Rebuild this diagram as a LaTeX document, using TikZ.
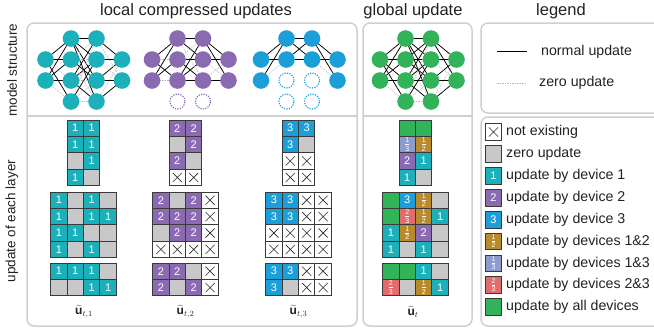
\documentclass[tikz,border=0pt]{standalone}
\usepackage{fontspec}
\setmainfont{Liberation Sans}
\usetikzlibrary{shapes.misc}
\definecolor{c1}{HTML}{1BB0BA}
\definecolor{c2}{HTML}{8A6BB2}
\definecolor{c3}{HTML}{1C9FD9}
\definecolor{ca}{HTML}{32B35A}
\definecolor{c12}{HTML}{B88A2C}
\definecolor{c13}{HTML}{8D9BCD}
\definecolor{c23}{HTML}{E26B6E}
\definecolor{cz}{HTML}{C8C8C8}
\definecolor{cx}{HTML}{FFFFFF}
\definecolor{panelgray}{HTML}{CFCFCF}
\definecolor{cellline}{HTML}{3A3A3A}
\definecolor{txt}{HTML}{222222}
\pgfdeclarelayer{bg}
\pgfsetlayers{bg,main}
\newcommand\stackfrac[2]{$\frac{\mbox{\fontsize{7}{7}\selectfont #1}}{\mbox{\fontsize{7}{7}\selectfont #2}}$}
\expandafter\def\csname t1\endcsname{1}
\expandafter\def\csname t2\endcsname{2}
\expandafter\def\csname t3\endcsname{3}
\expandafter\def\csname tz\endcsname{}
\expandafter\def\csname tx\endcsname{}
\expandafter\def\csname ta\endcsname{}
\expandafter\def\csname t12\endcsname{\stackfrac{1}{2}}
\expandafter\def\csname t13\endcsname{\stackfrac{1}{3}}
\expandafter\def\csname t23\endcsname{\stackfrac{2}{3}}
\def\xmarkname{x}
\tikzset{
  panel/.style={draw=panelgray, line width=1.5pt, rounded corners=7pt},
  panelline/.style={draw=panelgray, line width=1.5pt},
  title/.style={font=\fontsize{16.5}{18}\selectfont, text=txt},
  sidelabel/.style={font=\fontsize{13.5}{15}\selectfont, text=txt, rotate=90},
  legtext/.style={font=\fontsize{14.2}{16}\selectfont, text=txt, anchor=west, inner sep=0pt},
  neuron/.style={circle, minimum size=16.6pt, inner sep=0pt, draw=none},
  ghost/.style={circle, minimum size=15pt, inner sep=0pt, line width=1.2pt, dash pattern=on 1.2pt off 1.3pt},
  normalupd/.style={draw=black, line width=0.75pt},
  zeroupd/.style={draw=black!28, line width=0.5pt, dash pattern=on 1.5pt off 1pt},
  cellbox/.style={draw=cellline, line width=1pt, minimum size=16.4pt, inner sep=0pt, text=white, font=\fontsize{11}{11}\selectfont},
  crossmark/.style={cross out, draw=black!85, line width=0.6pt, minimum size=8.5pt, inner sep=0pt},
  sublabel/.style={font=\fontsize{12}{14}\selectfont, text=txt, inner sep=1pt}
}
% #1 name prefix, #2 left x, #3 top y, #4 number of columns, #5 entries
\newcommand\cellgrid[5]{%
  \foreach \e [count=\k from 0] in {#5} {%
    \pgfmathtruncatemacro\rr{floor(\k/#4)}%
    \pgfmathtruncatemacro\cc{\k-\rr*#4}%
    \node[cellbox, fill=c\e] (#1-\k) at ({#2+(\cc+0.5)*16.4},{#3+(\rr+0.5)*16.4}) {\csname t\e\endcsname};
    \ifx\e\xmarkname \node[crossmark] (#1-x\k) at (#1-\k.center) {};\fi
  }}
% #1 prefix, #2 left x, #3 colour, #4 number of existing hidden nodes
\newcommand\neuralnet[4]{%
  \node[neuron, fill=#3] (#1a1) at (#2,59.5) {};
  \node[neuron, fill=#3] (#1a2) at (#2,80.5) {};
  \node[neuron, fill=#3] (#1d1) at (#2+76.5,59.5) {};
  \node[neuron, fill=#3] (#1d2) at (#2+76.5,80.5) {};
  \foreach \i/\y in {1/38.5,2/59.5,3/80.5,4/101.5}{%
    \ifnum\i>#4
      \node[ghost, draw=#3] (#1b\i) at (#2+25.5,\y) {};
      \node[ghost, draw=#3] (#1c\i) at (#2+51,\y) {};
    \else
      \node[neuron, fill=#3] (#1b\i) at (#2+25.5,\y) {};
      \node[neuron, fill=#3] (#1c\i) at (#2+51,\y) {};
    \fi}}
\begin{document}
\begin{tikzpicture}[x=1pt,y=-1pt]
\useasboundingbox (0,0) rectangle (654,333);
% panels
\draw[panel] (27,23) rectangle (357,326);
\draw[panelline] (27,116) -- (357,116);
\draw[panel] (363,23) rectangle (472,326);
\draw[panelline] (363,116) -- (472,116);
\draw[panel] (481,23) rectangle (665,113);
\draw[panel] (481,117) rectangle (665,326);
% titles
\node[title] (t1) at (196,11) {local compressed updates};
\node[title] (t2) at (413,11) {global update};
\node[title] (t3) at (561,11) {legend};
\node[sidelabel] (s1) at (12,70) {model structure};
\node[sidelabel] (s2) at (12,221) {update of each layer};
% networks
\neuralnet{p}{45.5}{c1}{4}
\neuralnet{q}{152}{c2}{3}
\neuralnet{r}{261}{c3}{2}
\neuralnet{g}{380}{ca}{4}
\begin{pgfonlayer}{bg}
% device 1
\foreach \s/\t in {a1/b1,a2/b1,a1/b2,a2/b2,a2/b3,a1/b4,
  b1/c1,b3/c1,b1/c2,b3/c2,b4/c2,b1/c3,b2/c3,b1/c4,b3/c4,
  c1/d1,c2/d1,c3/d1,c3/d2,c4/d2}
  \draw[normalupd] (p\s.center) -- (p\t.center);
\foreach \s/\t in {a1/b3,a2/b4,b2/c1,b4/c1,b2/c2,b3/c3,b4/c3,b2/c4,b4/c4,c4/d1,c1/d2,c2/d2}
  \draw[zeroupd] (p\s.center) -- (p\t.center);
% device 2
\foreach \s/\t in {a1/b1,a2/b1,a2/b2,a1/b3,
  b1/c1,b3/c1,b1/c2,b2/c2,b3/c2,b2/c3,b3/c3,
  c1/d1,c2/d1,c1/d2,c3/d2}
  \draw[normalupd] (q\s.center) -- (q\t.center);
\foreach \s/\t in {a1/b2,a2/b3,b2/c1,b1/c3,c3/d1,c2/d2}
  \draw[zeroupd] (q\s.center) -- (q\t.center);
% device 3
\foreach \s/\t in {a1/b1,a2/b1,a1/b2,b1/c1,b2/c1,b1/c2,b2/c2,c1/d1,c2/d1,c1/d2}
  \draw[normalupd] (r\s.center) -- (r\t.center);
\foreach \s/\t in {a2/b2,c2/d2}
  \draw[zeroupd] (r\s.center) -- (r\t.center);
% global
\foreach \s/\t in {a1/b1,a2/b1,a1/b2,a2/b2,a1/b3,a2/b3,a1/b4,
  b1/c1,b2/c1,b3/c1,b1/c2,b2/c2,b3/c2,b4/c2,b1/c3,b2/c3,b3/c3,b1/c4,b3/c4,
  c1/d1,c2/d1,c3/d1,c1/d2,c3/d2,c4/d2}
  \draw[normalupd] (g\s.center) -- (g\t.center);
\foreach \s/\t in {a2/b4,b4/c1,b4/c3,b2/c4,b4/c4,c4/d1,c2/d2}
  \draw[zeroupd] (g\s.center) -- (g\t.center);
\end{pgfonlayer}
% grids: device 1
\cellgrid{pa}{67.1}{120}{2}{1,1,1,1,z,1,1,z}
\cellgrid{pb}{50.7}{192}{4}{1,z,1,z,1,z,1,1,1,1,z,z,1,z,1,z}
\cellgrid{pc}{50.7}{263}{4}{1,1,1,z,z,z,1,1}
% device 2
\cellgrid{qa}{169.1}{120}{2}{2,2,z,2,2,z,x,x}
\cellgrid{qb}{152.7}{192}{4}{2,z,2,x,2,2,2,x,z,2,2,x,x,x,x,x}
\cellgrid{qc}{152.7}{263}{4}{2,2,z,x,2,z,2,x}
% device 3
\cellgrid{ra}{282.1}{120}{2}{3,3,3,z,x,x,x,x}
\cellgrid{rb}{265.7}{192}{4}{3,3,x,x,3,3,x,x,x,x,x,x,x,x,x,x}
\cellgrid{rc}{265.7}{263}{4}{3,3,x,x,3,z,x,x}
% global
\cellgrid{ga}{399.1}{120}{2}{a,a,13,12,2,1,1,z}
\cellgrid{gb}{382.7}{192}{4}{a,3,12,z,a,23,12,1,1,12,2,z,1,z,1,z}
\cellgrid{gc}{382.7}{263}{4}{a,a,1,z,23,z,12,1}
% sub labels
\node[sublabel] (u1) at (84,312) {$\widetilde{\mathbf{u}}_{t,1}$};
\node[sublabel] (u2) at (185.5,312) {$\widetilde{\mathbf{u}}_{t,2}$};
\node[sublabel] (u3) at (298.5,312) {$\widetilde{\mathbf{u}}_{t,3}$};
\node[sublabel] (u4) at (413,312) {$\widetilde{\mathbf{u}}_{t}$};
% legend top
\coordinate (ln1) at (497,51.5);
\coordinate (ln2) at (527,51.5);
\draw[normalupd] (ln1) -- (ln2);
\node[legtext] (lt1) at (541,51.5) {normal update};
\coordinate (lz1) at (497,83);
\coordinate (lz2) at (527,83);
\draw[zeroupd] (lz1) -- (lz2);
\node[legtext] (lt2) at (539,83) {zero update};
% legend bottom
\foreach \e/\lab [count=\k from 0] in {x/not existing,z/zero update,1/update by device 1,2/update by device 2,3/update by device 3,12/update by devices 1\&2,13/update by devices 1\&3,23/update by devices 2\&3,a/update by all devices}{%
  \node[cellbox, fill=c\e, minimum size=16.8pt] (lb\k) at (493.5,{132+\k*21.9}) {\csname t\e\endcsname};
  \ifx\e\xmarkname \node[crossmark] (lbx\k) at (lb\k.center) {};\fi
  \node[legtext] (ll\k) at (506,{132+\k*21.9}) {\lab};
}
\end{tikzpicture}
\end{document}
